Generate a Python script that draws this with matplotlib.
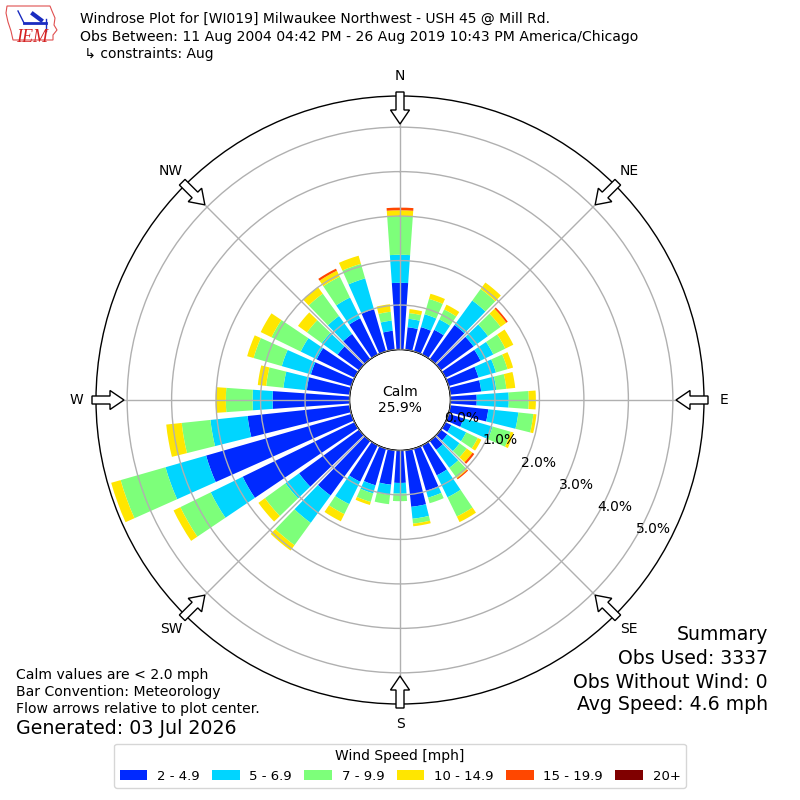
import numpy as np
import matplotlib
matplotlib.use("Agg")
import matplotlib.pyplot as plt
from matplotlib.patches import Patch, Circle, FancyArrow, Polygon
from matplotlib.lines import Line2D

# ---------------- data ----------------
directions = [0, 10, 20, 30, 40, 50, 60, 70, 80, 90, 100, 110, 120, 130, 140, 150, 160, 170,
              180, 190, 200, 210, 220, 230, 240, 250, 260, 270, 280, 290, 300, 310, 320, 330, 340, 350]

speed_labels = ["2 - 4.9", "5 - 6.9", "7 - 9.9", "10 - 14.9", "15 - 19.9", "20+"]

# percent of observations per direction, per speed bin
spd_2_5 = [1.50, 0.51, 0.57, 0.62, 0.95, 0.91, 0.88, 0.70, 0.70, 0.59, 0.86, 0.35, 0.15, 0.18, 0.25, 0.75, 0.99, 1.28,
           0.73, 0.78, 0.86, 0.91, 1.52, 1.67, 2.80, 3.40, 2.31, 1.73, 0.97, 0.95, 0.95, 0.60, 0.70, 0.91, 0.99, 0.43]
spd_5_7 = [0.63, 0.19, 0.30, 0.26, 0.68, 0.40, 0.32, 0.41, 0.34, 0.72, 0.68, 0.68, 0.37, 0.34, 0.50, 0.55, 0.16, 0.27,
           0.24, 0.23, 0.19, 0.56, 0.76, 0.38, 0.80, 0.95, 0.84, 0.45, 0.53, 0.68, 0.40, 0.44, 0.50, 0.52, 0.72, 0.23]
spd_7_10 = [0.87, 0.13, 0.36, 0.25, 0.32, 0.35, 0.30, 0.27, 0.23, 0.45, 0.34, 0.42, 0.29, 0.20, 0.27, 0.48, 0.13, 0.11,
            0.17, 0.21, 0.20, 0.25, 0.62, 0.57, 0.76, 1.05, 0.65, 0.60, 0.39, 0.66, 0.73, 0.41, 0.62, 0.52, 0.34, 0.20]
spd_10_15 = [0.13, 0.09, 0.12, 0.12, 0.18, 0.16, 0.20, 0.13, 0.20, 0.16, 0.07, 0.07, 0.09, 0.16, 0.02, 0.14, 0.00, 0.06,
             0.00, 0.00, 0.07, 0.18, 0.15, 0.18, 0.17, 0.22, 0.35, 0.23, 0.19, 0.15, 0.27, 0.25, 0.18, 0.15, 0.19, 0.17]
spd_15_20 = [0.06, 0.00, 0.00, 0.00, 0.00, 0.04, 0.00, 0.00, 0.00, 0.00, 0.00, 0.00, 0.00, 0.05, 0.03, 0.00, 0.00, 0.00,
             0.00, 0.00, 0.00, 0.00, 0.00, 0.00, 0.00, 0.00, 0.00, 0.00, 0.00, 0.00, 0.00, 0.00, 0.00, 0.05, 0.00, 0.00]
spd_20p = [0.0] * 36

calm_pct = "25.9%"
rticks = [0, 1, 2, 3, 4, 5]
rtick_labels = ["0.0%", "1.0%", "2.0%", "3.0%", "4.0%", "5.0%"]
compass = ["N", "NE", "E", "SE", "S", "SW", "W", "NW"]
compass_deg = [0, 45, 90, 135, 180, 225, 270, 315]

series = [spd_2_5, spd_5_7, spd_7_10, spd_10_15, spd_15_20, spd_20p]
colors = plt.cm.jet(np.linspace(0, 1, 7)[1:])

# ---------------- figure ----------------
W = 800.0
fig = plt.figure(figsize=(8, 8), dpi=100)
R_OUT = 304.0
ax = fig.add_axes([(400 - R_OUT) / W, (400 - R_OUT) / W, 2 * R_OUT / W, 2 * R_OUT / W],
                  projection="polar")
ax.set_theta_zero_location("N")
ax.set_theta_direction(-1)
ax.set_axisbelow(False)

theta = np.deg2rad(directions)
bottom = np.zeros(len(directions))
for vals, col in zip(series, colors):
    v = np.array(vals)
    ax.bar(theta, v, width=np.deg2rad(8), bottom=bottom, color=col, edgecolor="none",
           align="center", zorder=2)
    bottom = bottom + v

ax.set_ylim(0, 5.70)
ax.set_rorigin(-1.135)
ax.set_thetagrids(compass_deg, labels=[""] * 8)
ax.set_rgrids(rticks, labels=rtick_labels, angle=120, fontsize=10)
ax.grid(True, color="#b0b0b0", lw=1.0)
ax.spines["polar"].set_linewidth(1.0)
ax.tick_params(axis="x", length=0)

# calm circle (below the radial labels)
calm_r = 50.5 / (2 * R_OUT)
ax.add_patch(Circle((0.5, 0.5), calm_r, transform=ax.transAxes, facecolor="white",
                    edgecolor="black", lw=1.0, zorder=2.2, clip_on=False))
ax.text(0.5, 0.5, "Calm\n" + calm_pct, transform=ax.transAxes, ha="center", va="center",
        fontsize=10, zorder=6, linespacing=1.2)

# compass labels and arrows
for lab, d in zip(compass, compass_deg):
    s, c = np.sin(np.deg2rad(d)), np.cos(np.deg2rad(d))
    fig.text((400 + 324 * s) / W, (400 + 324 * c) / W, lab, ha="center", va="center", fontsize=10)
    x0, y0 = (400 + 308 * s) / W, (400 + 308 * c) / W
    x1, y1 = (400 + 276 * s) / W, (400 + 276 * c) / W
    arr = FancyArrow(x0, y0, x1 - x0, y1 - y0, width=8 / W, head_width=19 / W, head_length=14 / W,
                     length_includes_head=True, transform=fig.transFigure, facecolor="white",
                     edgecolor="black", lw=1.0, zorder=10)
    fig.add_artist(arr)

# header
fig.text(80 / W, 1 - 19 / W, "Windrose Plot for [WI019] Milwaukee Northwest - USH 45 @ Mill Rd.",
         ha="left", va="center", fontsize=10)
fig.text(80 / W, 1 - 37 / W, "Obs Between: 11 Aug 2004 04:42 PM - 26 Aug 2019 10:43 PM America/Chicago",
         ha="left", va="center", fontsize=10.1)
fig.text(80 / W, 1 - 54 / W, " \u21b3 constraints: Aug", ha="left", va="center", fontsize=10)

# simple logo
iowa = [(7, 6), (50, 6), (52, 11), (55, 18), (54, 25), (57, 30), (53, 35), (53, 40),
        (13, 40), (11, 31), (8, 22), (6, 13)]
fig.add_artist(Polygon([(x / W, 1 - y / W) for x, y in iowa], closed=True, transform=fig.transFigure,
                       facecolor="none", edgecolor="#e05050", lw=0.8))
fig.add_artist(Line2D([24 / W, 46 / W], [1 - 23 / W, 1 - 23 / W], transform=fig.transFigure,
                      color="#1a2cc0", lw=2))
fig.add_artist(Line2D([18 / W, 24 / W], [1 - 11 / W, 1 - 23 / W], transform=fig.transFigure,
                      color="#1a2cc0", lw=1))
fig.add_artist(Line2D([33 / W, 41 / W], [1 - 14 / W, 1 - 20 / W], transform=fig.transFigure,
                      color="#1a2cc0", lw=3))
fig.add_artist(Line2D([46 / W, 46 / W], [1 - 19 / W, 1 - 31 / W], transform=fig.transFigure,
                      color="#1a2cc0", lw=1))
fig.text(32 / W, 1 - 37 / W, "IEM", ha="center", va="center", fontsize=13, color="#d42020",
         family="Liberation Serif", style="italic")

# footer left
fig.text(16 / W, 1 - 675 / W, "Calm values are < 2.0 mph", ha="left", va="center", fontsize=10.1)
fig.text(16 / W, 1 - 692 / W, "Bar Convention: Meteorology", ha="left", va="center", fontsize=10.1)
fig.text(16 / W, 1 - 709 / W, "Flow arrows relative to plot center.", ha="left", va="center", fontsize=10.1)
fig.text(16 / W, 1 - 728 / W, "Generated: 03 Jul 2026", ha="left", va="center", fontsize=13.7)

# summary right
for txt, y in zip(["Summary", "Obs Used: 3337", "Obs Without Wind: 0", "Avg Speed: 4.6 mph"],
                  [635, 659, 682, 705]):
    fig.text(768 / W, 1 - y / W, txt, ha="right", va="center", fontsize=13.6)

handles = [Patch(facecolor=c, edgecolor="none", label=l) for c, l in zip(colors, speed_labels)]
fig.legend(handles=handles, loc="lower center", bbox_to_anchor=(0.5, 12 / W), ncol=6,
           title="Wind Speed [mph]", fontsize=9.5, title_fontsize=10, frameon=True,
           borderaxespad=0, handlelength=2.1, handleheight=0.75, handletextpad=0.72,
           columnspacing=0.95)

fig.savefig("out.png", dpi=100)
